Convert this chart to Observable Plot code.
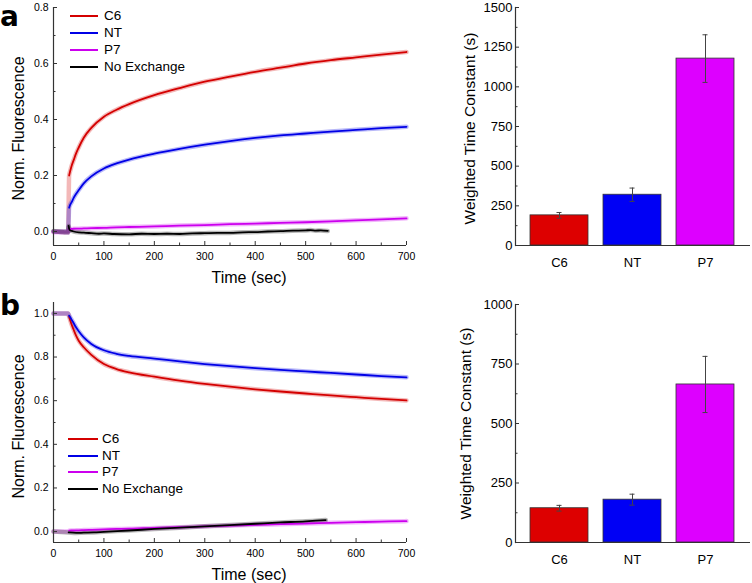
<!DOCTYPE html>
<html><head><meta charset="utf-8">
<script src="https://cdn.jsdelivr.net/npm/d3@7"></script>
<script src="https://cdn.jsdelivr.net/npm/@observablehq/plot@0.6"></script>
<style>
body{margin:0;background:#fff;font-family:"Liberation Sans",Arial,sans-serif;}
#root{position:relative;width:752px;height:583px;overflow:hidden;background:#fff;}
.panel{position:absolute;}
.letter{position:absolute;font-family:"DejaVu Sans",sans-serif;font-weight:bold;font-size:28px;line-height:normal;color:#000;}
.legend{position:absolute;font-size:13.5px;color:#000;}
.legend .row{position:absolute;left:0;height:16px;line-height:16px;white-space:nowrap;}
.legend .sw{position:absolute;top:7px;height:2px;}
.legend .lab{position:absolute;top:0;}
</style></head><body><div id="root"></div>
<script>
// ---------- series metadata ----------
const seriesNames = ["C6", "NT", "P7", "No Exchange"];
const lineColors = ["#d40000", "#0000e6", "#cc00ee", "#000000"];
const barCats = ["C6", "NT", "P7"];
const barColors = ["#dd0000", "#0000f5", "#dd00ff"];

// ---------- panel a (kinetics) ----------
const timeA = [0, 10, 20, 29, 31, 33, 36, 40, 45, 50, 60, 75, 100, 125, 150, 200, 250, 300, 350, 400, 450, 500, 550, 600, 650, 700];
const c6A   = [0, 0, 0, 0, 0.20, 0.215, 0.235, 0.255, 0.28, 0.30, 0.335, 0.37, 0.41, 0.435, 0.455, 0.487, 0.512, 0.535, 0.553, 0.57, 0.585, 0.60, 0.612, 0.622, 0.632, 0.641];
const ntA   = [0, 0, 0, 0, 0.085, 0.095, 0.105, 0.12, 0.135, 0.148, 0.172, 0.197, 0.225, 0.243, 0.257, 0.278, 0.295, 0.31, 0.323, 0.334, 0.343, 0.35, 0.357, 0.363, 0.369, 0.374];
const p7A   = [-0.003, -0.003, -0.004, -0.004, 0.008, 0.009, 0.009, 0.01, 0.01, 0.01, 0.011, 0.012, 0.013, 0.015, 0.016, 0.018, 0.021, 0.023, 0.026, 0.028, 0.031, 0.033, 0.036, 0.04, 0.043, 0.047];
const timeNoExA = [0, 10, 20, 29, 30, 31, 33, 36, 40, 50, 60, 75, 90, 100, 120, 150, 175, 200, 225, 250, 275, 300, 325, 350, 375, 400, 425, 450, 475, 500, 510, 520, 530, 544];
const noExA = [0.002, -0.001, -0.003, -0.004, 0.02, 0.01, 0.004, 0.002, 0.0, -0.003, -0.004, -0.006, -0.008, -0.007, -0.009, -0.01, -0.008, -0.009, -0.008, -0.009, -0.007, -0.006, -0.005, -0.005, -0.003, -0.002, 0.0, 0.001, 0.003, 0.004, 0.005, 0.003, 0.004, 0.002];

// ---------- panel b (kinetics) ----------
const timeB = [0, 10, 20, 29, 31, 35, 40, 45, 50, 60, 75, 100, 125, 150, 200, 250, 300, 350, 400, 450, 500, 550, 600, 650, 700];
const c6B   = [1.0, 1.0, 1.0, 1.0, 0.985, 0.955, 0.925, 0.897, 0.875, 0.845, 0.81, 0.768, 0.745, 0.73, 0.71, 0.692, 0.677, 0.664, 0.652, 0.642, 0.633, 0.624, 0.616, 0.608, 0.601];
const ntB   = [1.0, 1.0, 1.0, 1.0, 0.99, 0.975, 0.955, 0.935, 0.918, 0.89, 0.86, 0.831, 0.815, 0.805, 0.793, 0.78, 0.768, 0.758, 0.749, 0.741, 0.734, 0.727, 0.72, 0.713, 0.707];
const p7B   = [0.0, 0.0, 0.0, 0.0, 0.004, 0.005, 0.005, 0.006, 0.006, 0.007, 0.008, 0.01, 0.012, 0.013, 0.017, 0.02, 0.024, 0.027, 0.031, 0.034, 0.037, 0.04, 0.043, 0.046, 0.048];
const timeNoExB = [0, 15, 30, 45, 60, 80, 100, 150, 200, 250, 300, 350, 400, 450, 500, 520, 540];
const noExB = [0.0, -0.002, -0.004, -0.006, -0.005, -0.004, -0.001, 0.005, 0.012, 0.018, 0.024, 0.03, 0.036, 0.042, 0.047, 0.05, 0.053];

// ---------- bar panels ----------
const tauA = [190, 320, 1178];
const tauErrA = [18, 42, 150];
const tauB = [144, 180, 664];
const tauErrB = [12, 23, 118];

// ---------- ticks ----------
const timeTicks = [0, 100, 200, 300, 400, 500, 600, 700];
const timeMinor = [50, 150, 250, 350, 450, 550, 650];
const yTicksA = [0, 0.2, 0.4, 0.6, 0.8];
const yMinorA = [0.1, 0.3, 0.5, 0.7];
const yTicksB = [0, 0.2, 0.4, 0.6, 0.8, 1.0];
const yMinorB = [0.1, 0.3, 0.5, 0.7, 0.9];
const tauTicksA = [0, 250, 500, 750, 1000, 1250, 1500];
const tauMinorA = [125, 375, 625, 875, 1125, 1375];
const tauTicksB = [0, 250, 500, 750, 1000];
const tauMinorB = [125, 375, 625, 875];

const FONT = "'Liberation Sans', Arial, sans-serif";
const AXIS = "#333";

function toRows(times, vals, name) { return times.map((t, i) => ({t, v: vals[i], s: name})); }

function kineticsChart({series, yDomain, yTicks, yMinor, height, marginTop, yTitleDy}) {
  const rows = series.flatMap(d => toRows(d.times, d.vals, d.name));
  const colorOpt = {domain: seriesNames, range: lineColors};
  return Plot.plot({
    width: 420, height, marginLeft: 53, marginRight: 14, marginTop, marginBottom: 40,
    x: {domain: [0, 700]},
    y: {domain: yDomain},
    color: colorOpt,
    style: {fontFamily: FONT, fontSize: "10.5px", color: "#000", background: "transparent", overflow: "visible"},
    marks: [
      Plot.line(rows, {x: "t", y: "v", z: "s", stroke: "s", strokeWidth: 4.5, strokeOpacity: 0.28, curve: "monotone-x"}),
      Plot.line(rows.filter(d => d.t >= 30), {x: "t", y: "v", z: "s", stroke: "s", strokeWidth: 1.8, curve: "monotone-x"}),
      Plot.ruleX([0], {stroke: AXIS, strokeWidth: 1.2}),
      Plot.ruleY([yDomain[0]], {stroke: AXIS, strokeWidth: 1.2}),
      Plot.axisX(timeTicks, {tickSize: -4, tickPadding: 11, label: null, stroke: AXIS}),
      Plot.axisX(timeMinor, {tickSize: -2.5, tickFormat: () => "", label: null, stroke: AXIS}),
      Plot.axisY(yTicks, {tickSize: -4, tickPadding: 9, tickFormat: d3.format(".1f"), label: null, stroke: AXIS}),
      Plot.axisY(yMinor, {tickSize: -2.5, tickFormat: () => "", label: null, stroke: AXIS}),
      Plot.text(["Norm. Fluorescence"], {text: d => d, frameAnchor: "left", textAnchor: "middle", lineAnchor: "middle", rotate: -90, dx: -35, dy: yTitleDy, fontSize: 16}),
      Plot.text(["Time (sec)"], {text: d => d, frameAnchor: "bottom", textAnchor: "middle", lineAnchor: "middle", dx: 19, dy: 32, fontSize: 16})
    ]
  });
}

function barChart({vals, errs, yDomain, yTicks, yMinor, height, marginTop, titleDx, titleDy}) {
  const rows = barCats.map((c, i) => ({cat: c, v: vals[i], e: errs[i]}));
  return Plot.plot({
    width: 332, height, marginLeft: 95, marginRight: 2, marginTop, marginBottom: 40,
    x: {domain: barCats, padding: 0.2},
    y: {domain: yDomain},
    color: {domain: barCats, range: barColors},
    style: {fontFamily: FONT, fontSize: "13px", color: "#000", background: "transparent", overflow: "visible"},
    marks: [
      Plot.barY(rows, {x: "cat", y: "v", fill: "cat", stroke: "#333", strokeWidth: 0.8}),
      Plot.ruleX(rows, {x: "cat", y1: d => d.v - d.e, y2: d => d.v + d.e, stroke: "#444", strokeWidth: 1}),
      Plot.tickY(rows, {x: "cat", y: d => d.v + d.e, insetLeft: 26.5, insetRight: 26.5, stroke: "#444"}),
      Plot.tickY(rows, {x: "cat", y: d => d.v - d.e, insetLeft: 26.5, insetRight: 26.5, stroke: "#444"}),
      Plot.frame({anchor: "left", stroke: AXIS, strokeWidth: 1.2}),
      Plot.ruleY([0], {stroke: AXIS, strokeWidth: 1.2}),
      Plot.axisX({tickSize: 0, tickPadding: 12, label: null, fontSize: 13}),
      Plot.axisY(yTicks, {tickSize: -4, tickPadding: 7, label: null, fontSize: 13, stroke: AXIS, tickFormat: d3.format("d")}),
      Plot.axisY(yMinor, {tickSize: -2.5, tickFormat: () => "", label: null, stroke: AXIS}),
      Plot.text(["Weighted Time Constant (s)"], {text: d => d, frameAnchor: "left", textAnchor: "middle", lineAnchor: "middle", rotate: -90, dx: titleDx, dy: titleDy, fontSize: 15.5})
    ]
  });
}

const root = document.getElementById("root");
function place(el, left, top) { el.classList.add("panel"); el.style.left = left + "px"; el.style.top = top + "px"; root.appendChild(el); }

place(kineticsChart({
  series: [
    {name: "C6", times: timeA, vals: c6A},
    {name: "NT", times: timeA, vals: ntA},
    {name: "P7", times: timeA, vals: p7A},
    {name: "No Exchange", times: timeNoExA, vals: noExA}
  ],
  yDomain: [-0.05, 0.8], yTicks: yTicksA, yMinor: yMinorA, height: 285, marginTop: 7, yTitleDy: 2
}), 0, 0);

place(barChart({vals: tauA, errs: tauErrA, yDomain: [0, 1500], yTicks: tauTicksA, yMinor: tauMinorA, height: 285, marginTop: 7, titleDx: -45, titleDy: 2}), 420, 0);

place(kineticsChart({
  series: [
    {name: "C6", times: timeB, vals: c6B},
    {name: "NT", times: timeB, vals: ntB},
    {name: "P7", times: timeB, vals: p7B},
    {name: "No Exchange", times: timeNoExB, vals: noExB}
  ],
  yDomain: [-0.05, 1.05], yTicks: yTicksB, yMinor: yMinorB, height: 292, marginTop: 12, yTitleDy: 4
}), 0, 290);

place(barChart({vals: tauB, errs: tauErrB, yDomain: [0, 1000], yTicks: tauTicksB, yMinor: tauMinorB, height: 292, marginTop: 14, titleDx: -49, titleDy: 0}), 420, 290);

// panel letters
function letter(txt, left, top) {
  const d = document.createElement("div"); d.className = "letter"; d.textContent = txt;
  d.style.left = left + "px"; d.style.top = top + "px"; root.appendChild(d);
}
letter("a", 0, 0);
letter("b", 0, 289);

// legends
function legend(left, top, step, swLeft, swWidth, labLeft) {
  const g = document.createElement("div"); g.className = "legend";
  g.style.left = left + "px"; g.style.top = top + "px";
  seriesNames.forEach((n, i) => {
    const r = document.createElement("div"); r.className = "row"; r.style.top = (i * step) + "px";
    const sw = document.createElement("div"); sw.className = "sw";
    sw.style.left = swLeft + "px"; sw.style.width = swWidth + "px"; sw.style.background = lineColors[i];
    const lb = document.createElement("div"); lb.className = "lab"; lb.style.left = labLeft + "px"; lb.textContent = n;
    r.appendChild(sw); r.appendChild(lb); g.appendChild(r);
  });
  root.appendChild(g);
}
legend(0, 8, 17, 70, 28, 104);
legend(0, 431, 16.7, 68, 30, 102);
</script>
</body></html>
